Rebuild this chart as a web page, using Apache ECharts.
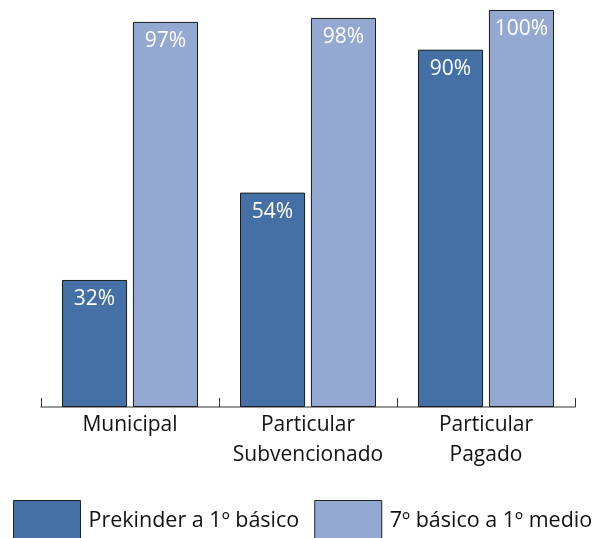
<!DOCTYPE html>
<html>
<head>
<meta charset="utf-8">
<script src="https://cdn.jsdelivr.net/npm/echarts@6/dist/echarts.min.js"></script>
<style>
  html, body { margin: 0; padding: 0; background: #fff; }
  #chart { width: 603px; height: 538px; }
</style>
</head>
<body>
<div id="chart"></div>
<script>
// categorías y valores (%)
const categories = ['Municipal', 'Particular\nSubvencionado', 'Particular\nPagado'];
const prekinder = [32, 54, 90];
const basico7 = [97, 98, 100];
const seriesNames = ['Prekinder a 1º básico', '7º básico a 1º medio'];

const font = '"Open Sans", "Noto Sans", sans-serif';
const chart = echarts.init(document.getElementById('chart'));

const barLabel = {
  show: true,
  position: 'insideTop',
  distance: 9,
  color: '#fff',
  fontSize: 21,
  fontFamily: font,
  formatter: '{c}%'
};

const option = {
  animation: false,
  legend: {
    left: 13,
    top: 500,
    padding: 0,
    itemWidth: 67,
    itemHeight: 40,
    itemGap: 15,
    icon: 'rect',
    textStyle: { color: '#111', fontSize: 21.5, fontFamily: font, padding: [0, 0, 0, 3] },
    data: seriesNames.map((n) => ({ name: n, itemStyle: { borderColor: '#222', borderWidth: 1 } }))
  },
  grid: { left: 41, right: 28, top: 10, bottom: 131 },
  xAxis: {
    type: 'category',
    data: categories,
    axisLine: { lineStyle: { color: '#777', width: 1.5 } },
    axisTick: { show: true, inside: true, length: 9, lineStyle: { color: '#333', width: 1 } },
    axisLabel: { interval: 0, hideOverlap: false, color: '#111', fontSize: 21, fontFamily: font, lineHeight: 30, margin: 3 }
  },
  yAxis: { type: 'value', min: 0, max: 100, show: false },
  series: [
    {
      name: seriesNames[0],
      type: 'bar',
      data: prekinder,
      barGap: '9%',
      barCategoryGap: '23.6%',
      itemStyle: { color: '#4570A5', borderColor: '#1a1a1a', borderWidth: 1 },
      label: barLabel
    },
    {
      name: seriesNames[1],
      type: 'bar',
      data: basico7,
      itemStyle: { color: '#94A9D2', borderColor: '#1a1a1a', borderWidth: 1 },
      label: barLabel
    }
  ]
};
chart.setOption(option);
</script>
</body>
</html>
